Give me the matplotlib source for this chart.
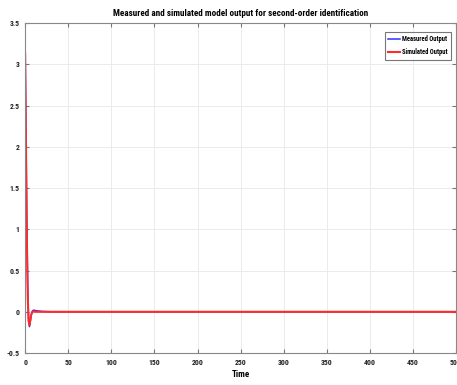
import matplotlib
matplotlib.use('Agg')
from matplotlib import pyplot as plt
from matplotlib import font_manager

# data
tMeasured = [0, 1, 2, 3, 4, 5, 6, 7, 8, 9, 10, 12, 15, 20, 30, 40, 500]
yMeasured = [3.2, 2.1, 1.0, 0.3, -0.12, -0.18, -0.12, -0.04, 0.0, 0.015, 0.02, 0.015, 0.01, 0.005, 0.0, 0.0, 0.0]
tSimulated = [0, 1, 2, 3, 4, 5, 6, 7, 8, 9, 10, 12, 15, 20, 30, 500]
ySimulated = [3.13, 2.0, 0.9, 0.2, -0.1, -0.16, -0.1, -0.04, -0.01, 0.0, 0.005, 0.0, 0.0, 0.0, 0.0, 0.0]

xTicks = [0, 50, 100, 150, 200, 250, 300, 350, 400, 450, 500]
yTicks = [-0.5, 0, 0.5, 1, 1.5, 2, 2.5, 3, 3.5]
yTickLabels = ['-0.5', '0', '0.5', '1', '1.5', '2', '2.5', '3', '3.5']

names = [f.name for f in font_manager.fontManager.ttflist]
fontName = 'DejaVu Sans'
for n in ['Liberation Sans Narrow', 'Roboto Condensed', 'Liberation Sans']:
    if n in names:
        fontName = n
        break
plt.rcParams['font.family'] = [fontName, 'DejaVu Sans']
plt.rcParams['font.weight'] = 'bold'

fig = plt.figure(figsize=(4.57, 3.85), dpi=100)
ax = fig.add_axes([0.055, 0.083, 0.943, 0.857])

ax.plot(tMeasured, yMeasured, color='#3030ff', linewidth=1.1, label='Measured Output')
ax.plot(tSimulated, ySimulated, color='#ff2a2a', linewidth=1.5, label='Simulated Output')

ax.set_xlim(0, 500)
ax.set_ylim(-0.5, 3.5)
ax.set_xticks(xTicks)
ax.set_yticks(yTicks)
ax.set_yticklabels(yTickLabels)
ax.tick_params(labelsize=5.6, direction='in', length=3, color='#777777',
               top=True, right=True, pad=4, labelcolor='#222222')
ax.grid(True, color='#ebebeb', linewidth=0.7)
for s in ax.spines.values():
    s.set_color('#888888')
    s.set_linewidth(0.8)

ax.set_title('Measured and simulated model output for second-order identification',
             fontsize=6.6, fontweight='bold', pad=5)
ax.set_xlabel('Time', fontsize=6.5, fontweight='bold', labelpad=3)

leg = ax.legend(loc='upper right', bbox_to_anchor=(0.988, 0.973), fontsize=4.7,
                frameon=True, fancybox=False, handlelength=1.7, handletextpad=0.4,
                borderpad=0.5, labelspacing=0.8, edgecolor='#555555', borderaxespad=0)
leg.get_frame().set_linewidth(0.8)

plt.savefig('out.png', dpi=100)
plt.close()
